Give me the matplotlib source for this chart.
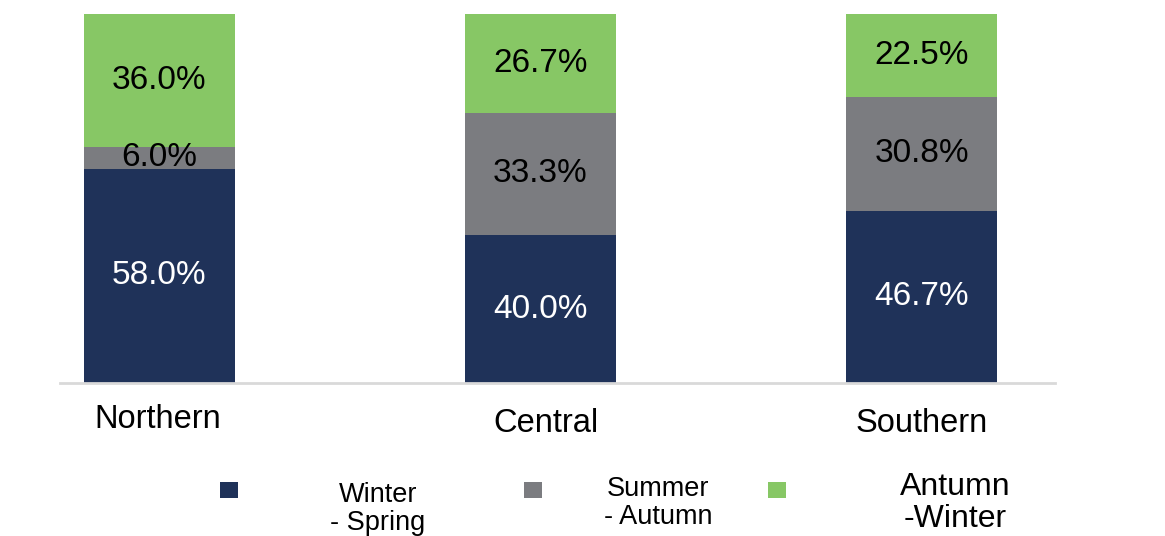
import matplotlib.pyplot as plt
from matplotlib.patches import Rectangle

plt.rcParams['font.family'] = ['Liberation Sans', 'DejaVu Sans']

regions = ["Northern", "Central", "Southern"]
winter_spring = [58.0, 40.0, 46.7]
summer_autumn = [6.0, 33.3, 30.8]
autumn_winter = [36.0, 26.7, 22.5]
series_labels = ["Winter\n- Spring", "Summer\n- Autumn", "Antumn\n-Winter"]

colors = ["#1f3259", "#7b7c80", "#87c765"]
text_colors = ["white", "black", "black"]

W, H = 1165, 536
fig = plt.figure(figsize=(W / 100, H / 100), dpi=100)
ax = fig.add_axes([60 / W, 1 - 383 / H, (1055 - 60) / W, (383 - 14) / H])

x = [0, 1, 2]
bottom = [0.0, 0.0, 0.0]
for vals, col, tcol in zip([winter_spring, summer_autumn, autumn_winter], colors, text_colors):
    ax.bar(x, vals, width=0.396, bottom=bottom, color=col, linewidth=0)
    for i, v in enumerate(vals):
        ax.text(x[i], bottom[i] + v / 2, f"{v:.1f}%", ha="center", va="center",
                fontsize=24, color=tcol)
    bottom = [b + v for b, v in zip(bottom, vals)]

ax.set_xlim(-0.261, 2.35)
ax.set_ylim(0, 100)
for s in ["top", "right", "left"]:
    ax.spines[s].set_visible(False)
ax.spines["bottom"].set_color("#d9d9d9")
ax.spines["bottom"].set_linewidth(2)
ax.set_yticks([])
ax.set_xticks(x)
ax.set_xticklabels([])
ax.tick_params(axis="x", length=0)

# category labels (slightly uneven placement like the original)
label_pos = [(158, 420), (546, 424), (922, 424)]
for name, (px, py) in zip(regions, label_pos):
    fig.text(px / W, 1 - py / H, name, ha="center", va="center", fontsize=23.5)

# hand-placed legend
square_x = [220, 524, 768]
text_pos = [(378, 509, 19.5, 1.15), (658, 503, 19.5, 1.15), (955, 503, 23, 1.12)]
for sx, col in zip(square_x, colors):
    fig.add_artist(Rectangle((sx / W, 1 - 498 / H), 18 / W, 16 / H,
                             transform=fig.transFigure, color=col, lw=0))
for lab, (tx, ty, fs, ls) in zip(series_labels, text_pos):
    fig.text(tx / W, 1 - ty / H, lab, ha="center", va="center", fontsize=fs,
             linespacing=ls)

fig.savefig("out.png", dpi=100)
